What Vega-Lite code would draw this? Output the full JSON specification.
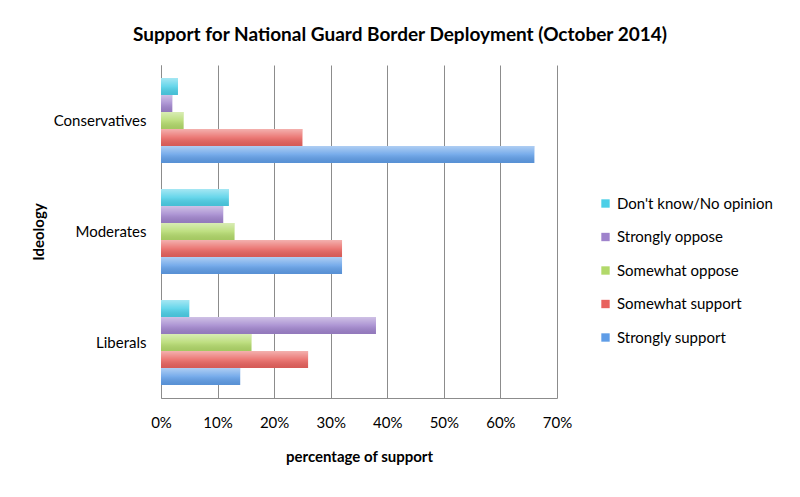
{
  "$schema": "https://vega.github.io/schema/vega-lite/v6.json",
  "width": 396,
  "height": 333,
  "autosize": {"type": "none"},
  "padding": {"left": 161, "top": 65, "right": 243, "bottom": 99},
  "background": "white",
  "title": {
    "text": "Support for National Guard Border Deployment (October 2014)",
    "font": "Lato",
    "fontSize": 19,
    "fontWeight": "bold",
    "color": "#000000",
    "anchor": "middle",
    "dx": 41,
    "offset": 20
  },
  "data": {
    "values": [
      {"ideology": "Conservatives", "response": "Don't know/No opinion", "value": 0.03},
      {"ideology": "Conservatives", "response": "Strongly oppose", "value": 0.02},
      {"ideology": "Conservatives", "response": "Somewhat oppose", "value": 0.04},
      {"ideology": "Conservatives", "response": "Somewhat support", "value": 0.25},
      {"ideology": "Conservatives", "response": "Strongly support", "value": 0.66},
      {"ideology": "Moderates", "response": "Don't know/No opinion", "value": 0.12},
      {"ideology": "Moderates", "response": "Strongly oppose", "value": 0.11},
      {"ideology": "Moderates", "response": "Somewhat oppose", "value": 0.13},
      {"ideology": "Moderates", "response": "Somewhat support", "value": 0.32},
      {"ideology": "Moderates", "response": "Strongly support", "value": 0.32},
      {"ideology": "Liberals", "response": "Don't know/No opinion", "value": 0.05},
      {"ideology": "Liberals", "response": "Strongly oppose", "value": 0.38},
      {"ideology": "Liberals", "response": "Somewhat oppose", "value": 0.16},
      {"ideology": "Liberals", "response": "Somewhat support", "value": 0.26},
      {"ideology": "Liberals", "response": "Strongly support", "value": 0.14}
    ]
  },
  "encoding": {
    "x": {
      "field": "value",
      "type": "quantitative",
      "scale": {"domain": [0, 0.7], "nice": false},
      "axis": {
        "title": "percentage of support",
        "format": "%",
        "values": [0, 0.1, 0.2, 0.3, 0.4, 0.5, 0.6, 0.7],
        "ticks": false,
        "labelFlush": false,
        "labelPadding": 17,
        "labelFontSize": 15,
        "labelColor": "#000000",
        "labelFont": "Lato",
        "domainColor": "#8c8c8c",
        "gridColor": "#8c8c8c",
        "gridOpacity": 1,
        "titleFont": "Lato",
        "titleFontSize": 15,
        "titleFontWeight": "bold",
        "titleColor": "#000000",
        "titlePadding": 19
      }
    },
    "y": {
      "field": "ideology",
      "type": "nominal",
      "sort": ["Conservatives", "Moderates", "Liberals"],
      "scale": {"paddingInner": 0.234, "paddingOuter": 0.117},
      "axis": {
        "title": "Ideology",
        "ticks": false,
        "grid": false,
        "labelPadding": 15,
        "labelFontSize": 15,
        "labelColor": "#000000",
        "labelFont": "Lato",
        "domainColor": "#8c8c8c",
        "titleFont": "Lato",
        "titleFontSize": 15,
        "titleFontWeight": "bold",
        "titleColor": "#000000",
        "titlePadding": 7
      }
    },
    "yOffset": {
      "field": "response",
      "type": "nominal",
      "sort": ["Don't know/No opinion", "Strongly oppose", "Somewhat oppose", "Somewhat support", "Strongly support"]
    }
  },
  "layer": [
    {
      "mark": {"type": "bar", "height": {"band": 1}},
      "encoding": {
        "color": {
          "field": "response",
          "type": "nominal",
          "sort": ["Don't know/No opinion", "Strongly oppose", "Somewhat oppose", "Somewhat support", "Strongly support"],
          "scale": {
            "domain": ["Don't know/No opinion", "Strongly oppose", "Somewhat oppose", "Somewhat support", "Strongly support"],
            "range": ["#4ccfe7", "#9f83cc", "#b2d96a", "#e8625e", "#5f9de7"]
          },
          "legend": {
            "title": null,
            "orient": "none",
            "legendX": 437,
            "legendY": 131,
            "symbolType": "square",
            "symbolSize": 70,
            "symbolStrokeWidth": 0,
            "labelFont": "Lato",
            "labelFontSize": 15,
            "labelColor": "#000000",
            "labelOffset": 4,
            "rowPadding": 17.5
          }
        }
      }
    },
    {
      "mark": {
        "type": "bar",
        "height": {"band": 1},
        "fill": {
          "gradient": "linear",
          "x1": 0, "y1": 0, "x2": 0, "y2": 1,
          "stops": [
            {"offset": 0, "color": "rgba(255,255,255,0.5)"},
            {"offset": 0.5, "color": "rgba(255,255,255,0.15)"},
            {"offset": 1, "color": "rgba(0,0,0,0.08)"}
          ]
        }
      }
    }
  ],
  "config": {
    "font": "Lato",
    "view": {"stroke": null}
  }
}
